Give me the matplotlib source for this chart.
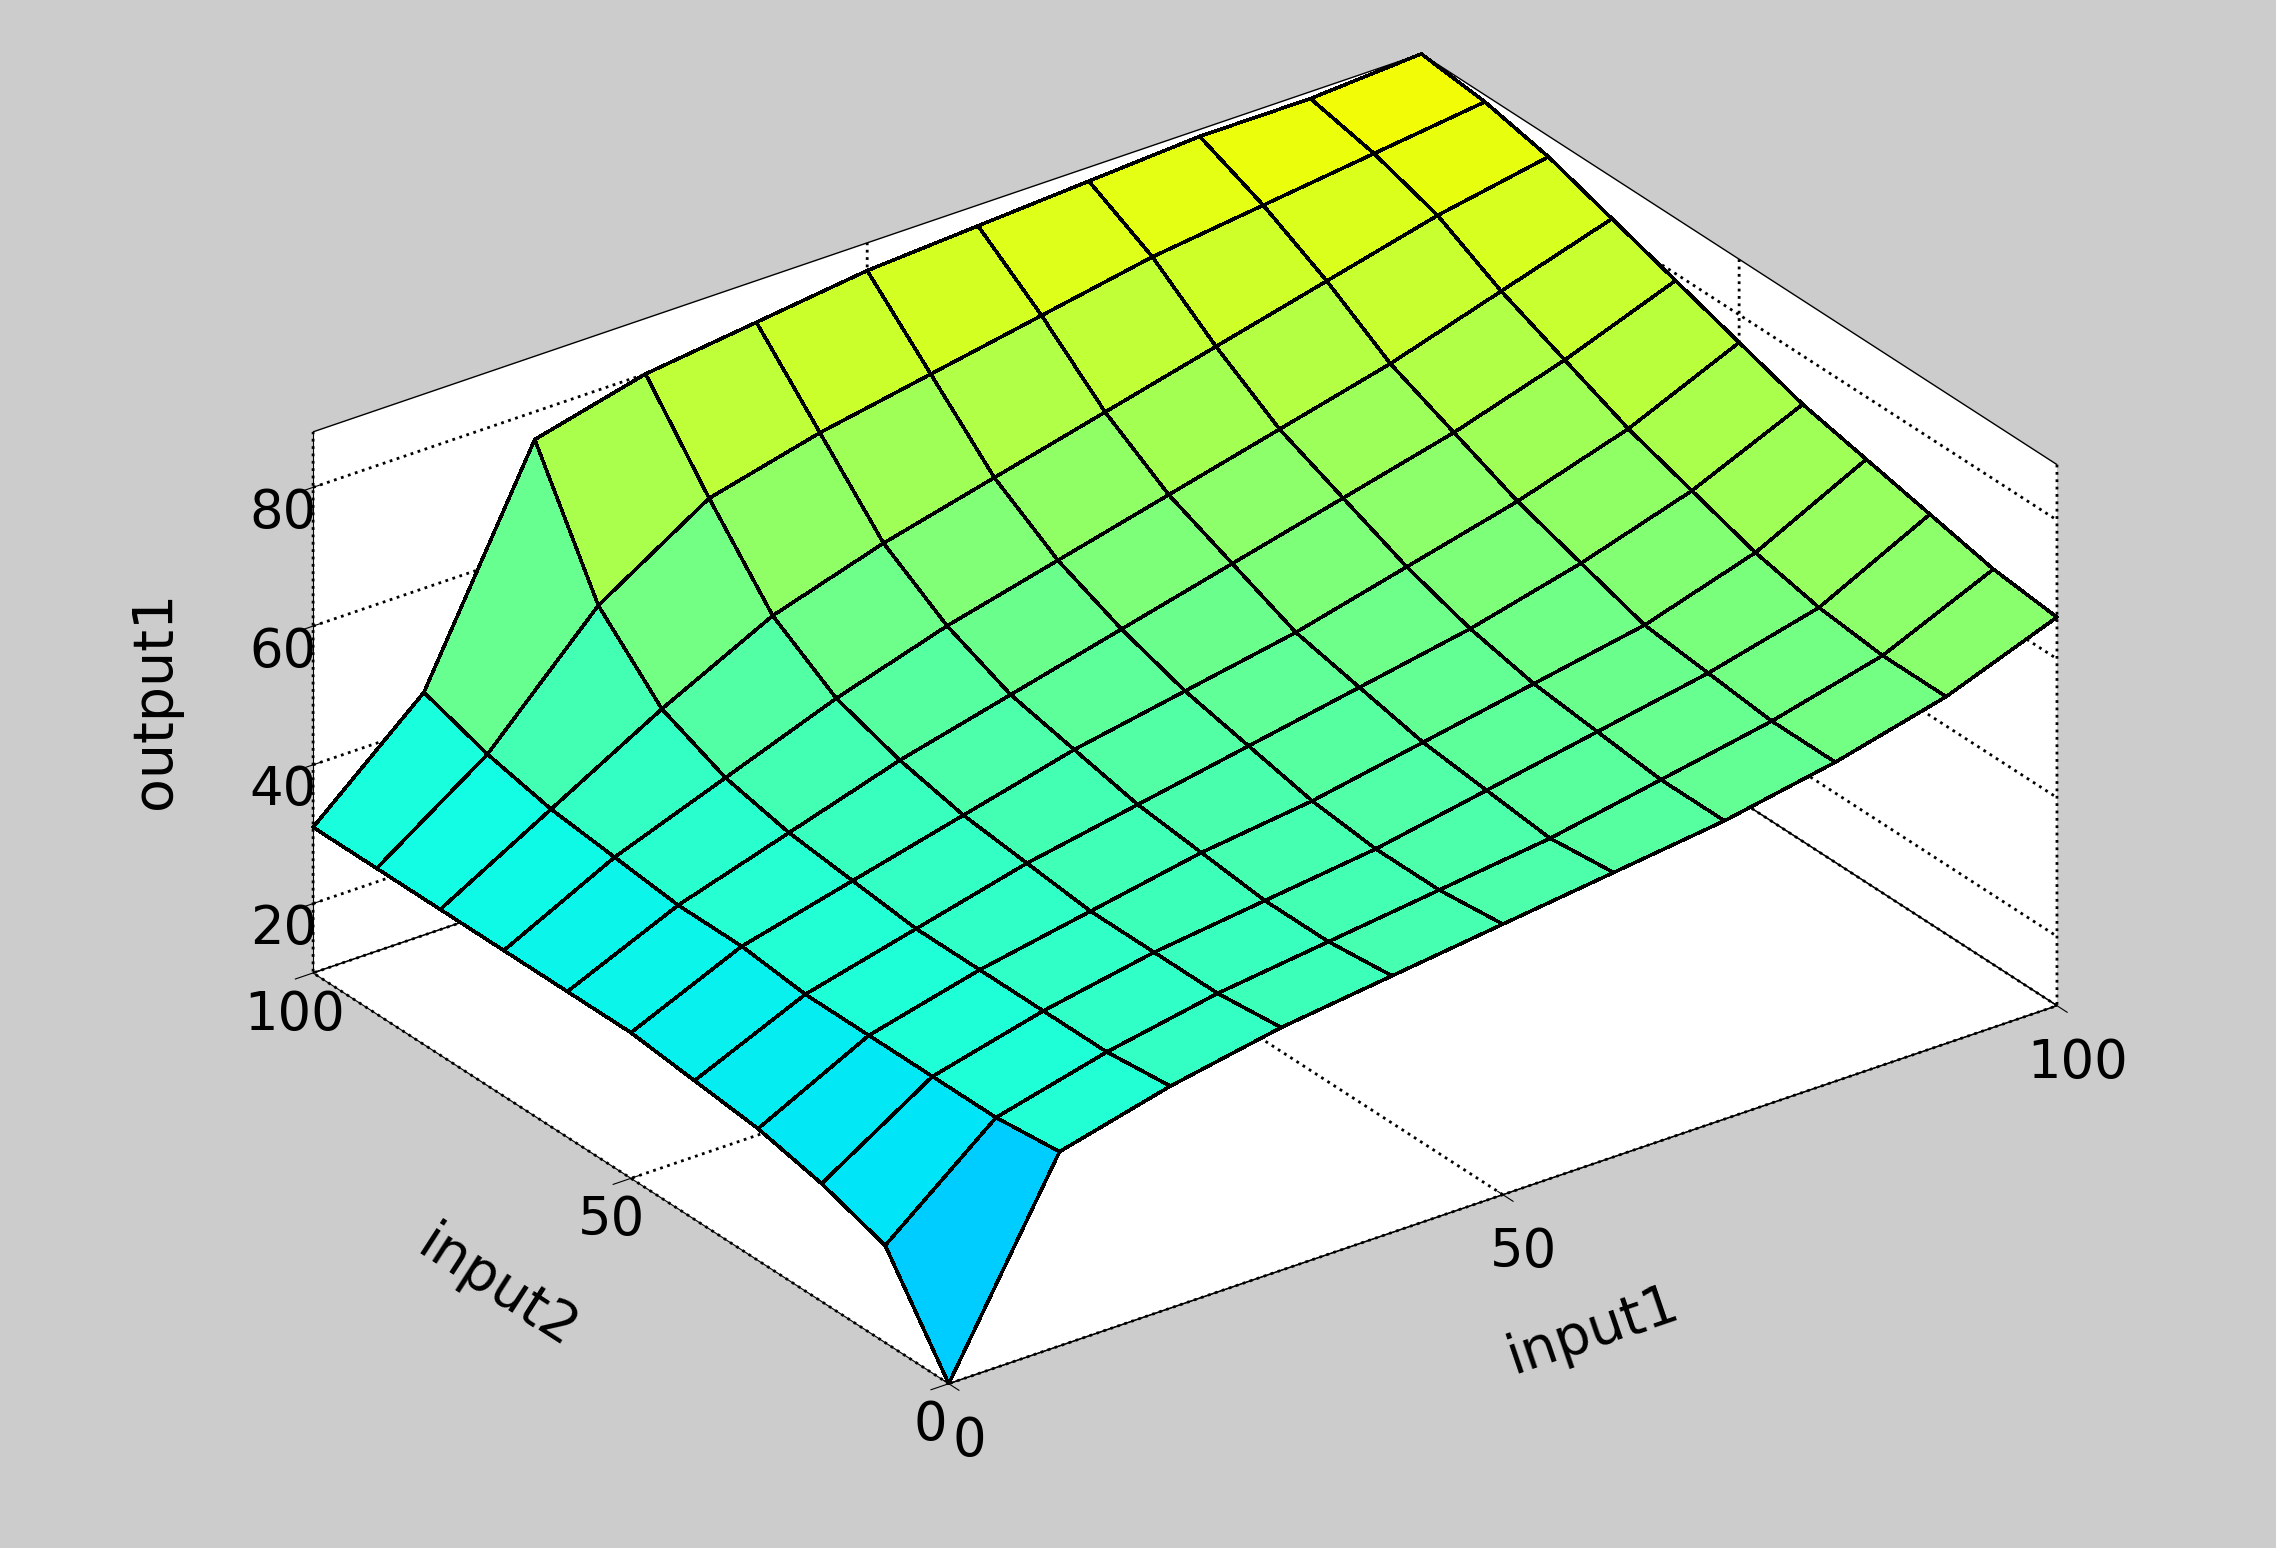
import numpy as np
import matplotlib.pyplot as plt

input1 = [0, 10, 20, 30, 40, 50, 60, 70, 80, 90, 100]
input2 = [0, 10, 20, 30, 40, 50, 60, 70, 80, 90, 100]
# rows: input2, columns: input1
output1 = [
    [10, 38, 42, 45, 47, 49, 51, 53, 56, 60, 66],
    [24, 37, 41, 44, 46, 48, 50, 53, 56, 60, 67],
    [27, 37, 41, 44, 46, 48, 51, 54, 57, 61, 69],
    [29, 37, 41, 44, 47, 49, 52, 55, 58, 63, 71],
    [30, 37, 41, 45, 48, 51, 54, 57, 61, 66, 73],
    [31, 38, 42, 46, 50, 53, 56, 60, 64, 69, 76],
    [31, 38, 43, 48, 52, 56, 60, 64, 68, 73, 79],
    [31, 39, 45, 51, 56, 60, 64, 68, 72, 77, 82],
    [31, 40, 49, 57, 62, 66, 70, 74, 78, 82, 85],
    [31, 42, 58, 68, 72, 75, 78, 81, 83, 85, 87],
    [31, 45, 76, 80, 82, 84, 85, 86, 87, 87, 88],
]

X, Y = np.meshgrid(input1, input2)
Z = np.array(output1, dtype=float)

fig = plt.figure(figsize=(22.76, 15.48), dpi=100)
fig.patch.set_facecolor('#cccccc')
ax = fig.add_axes([-0.07, -0.06, 1.16, 1.16], projection='3d')
ax.set_facecolor('#cccccc')
ax.set_proj_type('ortho')

ax.plot_surface(X, Y, Z, cmap='jet', vmin=-35, vmax=155, edgecolor='black',
                linewidth=1.8, shade=False, antialiased=False)

ax.view_init(elev=28, azim=-126)
ax.set_xlim(0, 100)
ax.set_ylim(0, 100)
ax.set_zlim(10, 88)
ax.set_xticks([0, 50, 100])
ax.set_yticks([0, 50, 100])
ax.set_zticks([20, 40, 60, 80])

for axis in (ax.xaxis, ax.yaxis, ax.zaxis):
    axis.set_pane_color((1, 1, 1, 1))
    axis.pane.set_edgecolor('black')
    axis._axinfo['grid'].update(color='black', linestyle=':', linewidth=2)
    axis.line.set_color('black')
    axis.set_tick_params(labelsize=38)
ax.xaxis.set_tick_params(pad=14)

ax.set_xlabel('input1', fontsize=40, labelpad=75)
ax.set_ylabel('input2', fontsize=40, labelpad=60)
ax.zaxis.set_rotate_label(False)
ax.set_zlabel('output1', fontsize=40, labelpad=40, rotation=90)
ax.set_box_aspect((1.9, 1.5, 0.85), zoom=1.0)

fig.savefig('out.png', facecolor=fig.get_facecolor())
